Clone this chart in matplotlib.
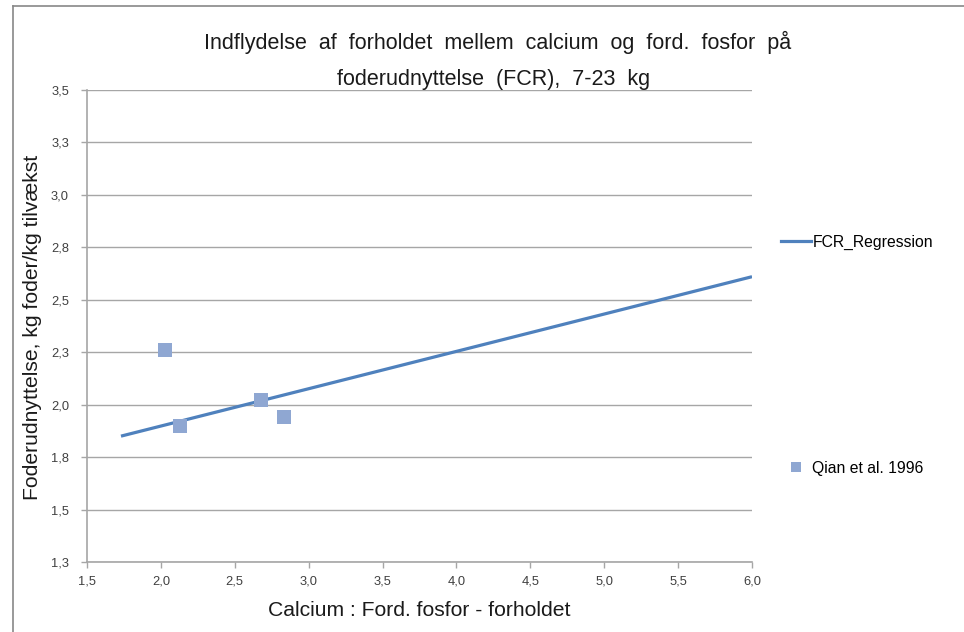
import numpy as np
import matplotlib.pyplot as plt
from matplotlib.lines import Line2D

plt.rcParams['font.family'] = ['Liberation Sans', 'DejaVu Sans']

# Qian et al. 1996 observations
qian_x = [2.03, 2.13, 2.68, 2.83]
qian_y = [2.26, 1.90, 2.02, 1.94]

# regression line end points
reg_x = [1.73, 6.0]
reg_y = [1.85, 2.61]

x_ticks = [1.5, 2.0, 2.5, 3.0, 3.5, 4.0, 4.5, 5.0, 5.5, 6.0]
y_ticks = [1.25, 1.5, 1.75, 2.0, 2.25, 2.5, 2.75, 3.0, 3.25, 3.5]

line_col = '#4F81BD'
mark_col = '#8FA7D2'
grid_col = '#A6A6A6'
tick_col = '#404040'
text_col = '#1a1a1a'

fig = plt.figure(figsize=(9.64, 6.32), dpi=100)
ax = fig.add_axes([87 / 964, 1 - 562 / 632, (752 - 87) / 964, (562 - 90) / 632])

ax.plot(reg_x, reg_y, color=line_col, lw=2.3, solid_capstyle='butt', zorder=3)
ax.plot(qian_x, qian_y, 's', color=mark_col, markersize=9.5, markeredgewidth=0, zorder=4)

ax.set_xlim(1.5, 6.0)
ax.set_ylim(1.25, 3.5)
ax.set_xticks(x_ticks)
ax.set_yticks(y_ticks)
ax.set_xticklabels([f'{v:.1f}'.replace('.', ',') for v in x_ticks])
# Excel-style rounding to one decimal (1.25 -> 1,3)
ax.set_yticklabels([f'{np.floor(v * 10 + 0.5) / 10:.1f}'.replace('.', ',') for v in y_ticks])
ax.tick_params(colors=grid_col, labelcolor=tick_col, labelsize=9.3, length=4, width=1)
ax.tick_params(axis='x', pad=6)
ax.tick_params(axis='y', pad=9)

ax.grid(axis='y', color=grid_col, lw=1)
ax.set_axisbelow(True)
for s in ['top', 'right']:
    ax.spines[s].set_visible(False)
for s in ['left', 'bottom']:
    ax.spines[s].set_color(grid_col)
    ax.spines[s].set_linewidth(1.2)

# titles and labels
fig.text(498 / 964, 1 - 42 / 632,
         'Indflydelse  af  forholdet  mellem  calcium  og  ford.  fosfor  på',
         ha='center', va='center', fontsize=15.5, color=text_col)
fig.text(494 / 964, 1 - 80 / 632, 'foderudnyttelse  (FCR),  7-23  kg',
         ha='center', va='center', fontsize=15.5, color=text_col)
fig.text(419 / 964, 1 - 611 / 632, 'Calcium : Ford. fosfor - forholdet',
         ha='center', va='center', fontsize=15.2, color=text_col)
fig.text(33 / 964, 1 - 327 / 632, 'Foderudnyttelse, kg foder/kg tilvækst',
         ha='center', va='center', rotation=90, fontsize=15.2, color=text_col)

# separate legend entries, Excel style
h1 = Line2D([], [], color=line_col, lw=2.3)
h2 = Line2D([], [], marker='s', ls='', color=mark_col, markersize=7, markeredgewidth=0)
fig.legend([h1], ['FCR_Regression'], loc='center left', frameon=False,
           bbox_to_anchor=(781 / 964, 1 - 242 / 632), fontsize=11.3,
           handlelength=1.9, handletextpad=0.1, borderpad=0, borderaxespad=0)
fig.legend([h2], ['Qian et al. 1996'], loc='center left', frameon=False,
           bbox_to_anchor=(781 / 964, 1 - 468 / 632), fontsize=11.3,
           handlelength=1.9, handletextpad=0.1, borderpad=0, borderaxespad=0)

# outer chart frame (only top and left are visible)
fig.add_artist(Line2D([13 / 964, 1], [1 - 6 / 632, 1 - 6 / 632], color='#888888', lw=1.2))
fig.add_artist(Line2D([13 / 964, 13 / 964], [0, 1 - 6 / 632], color='#888888', lw=1.2))

fig.savefig('out.png', dpi=100)
